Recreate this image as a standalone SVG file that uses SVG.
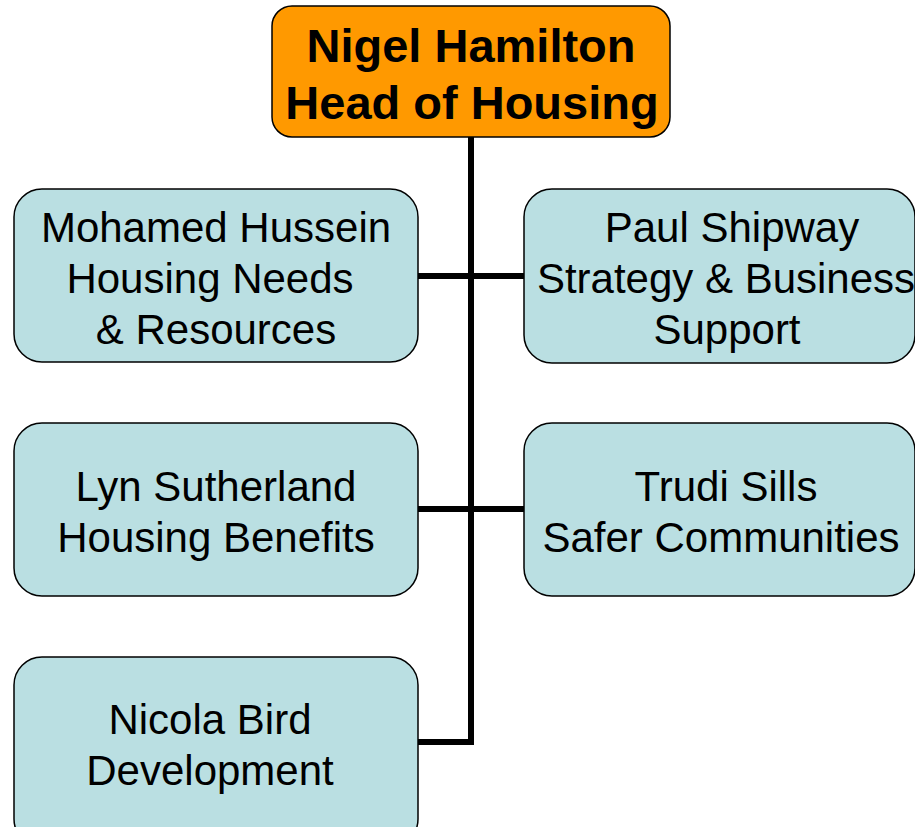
<svg xmlns="http://www.w3.org/2000/svg" width="915" height="827" viewBox="0 0 915 827">
<style>
.box{fill:#BADFE2;stroke:#000;stroke-width:1.5}
.head{fill:#FF9900;stroke:#000;stroke-width:1.5}
.t{font-family:"Liberation Sans",Arial,sans-serif;font-size:42px;fill:#000;text-anchor:middle}
.tb{font-family:"Liberation Sans",Arial,sans-serif;font-size:47px;font-weight:bold;fill:#000;text-anchor:middle}
.c{stroke:#000;stroke-width:6;fill:none}
</style>
<rect width="915" height="827" fill="#fff"/>
<g id="connectors">
<path class="c" d="M471 137V742H418"/>
<path class="c" d="M418 276H524"/>
<path class="c" d="M418 509H524"/>
</g>
<g id="head">
<rect class="head" x="272" y="6" width="398" height="131" rx="20"/>
<text class="tb" x="471" y="62">Nigel Hamilton</text>
<text class="tb" x="472" y="119">Head of Housing</text>
</g>
<g id="mohamed">
<rect class="box" x="14" y="189" width="404" height="173" rx="28"/>
<text class="t" x="216" y="242">Mohamed Hussein</text>
<text class="t" x="210" y="293">Housing Needs</text>
<text class="t" x="216" y="344">&amp; Resources</text>
</g>
<g id="paul">
<rect class="box" x="524" y="189" width="391" height="174" rx="28"/>
<text class="t" x="732" y="242">Paul Shipway</text>
<text class="t" x="726" y="293">Strategy &amp; Business</text>
<text class="t" x="727" y="344">Support</text>
</g>
<g id="lyn">
<rect class="box" x="14" y="423" width="404" height="173" rx="28"/>
<text class="t" x="216" y="501">Lyn Sutherland</text>
<text class="t" x="216" y="552">Housing Benefits</text>
</g>
<g id="trudi">
<rect class="box" x="524" y="423" width="391" height="173" rx="28"/>
<text class="t" x="726" y="501">Trudi Sills</text>
<text class="t" x="721" y="552">Safer Communities</text>
</g>
<g id="nicola">
<rect class="box" x="14" y="657" width="404" height="190" rx="28"/>
<text class="t" x="210" y="734">Nicola Bird</text>
<text class="t" x="210" y="785">Development</text>
</g>
</svg>
